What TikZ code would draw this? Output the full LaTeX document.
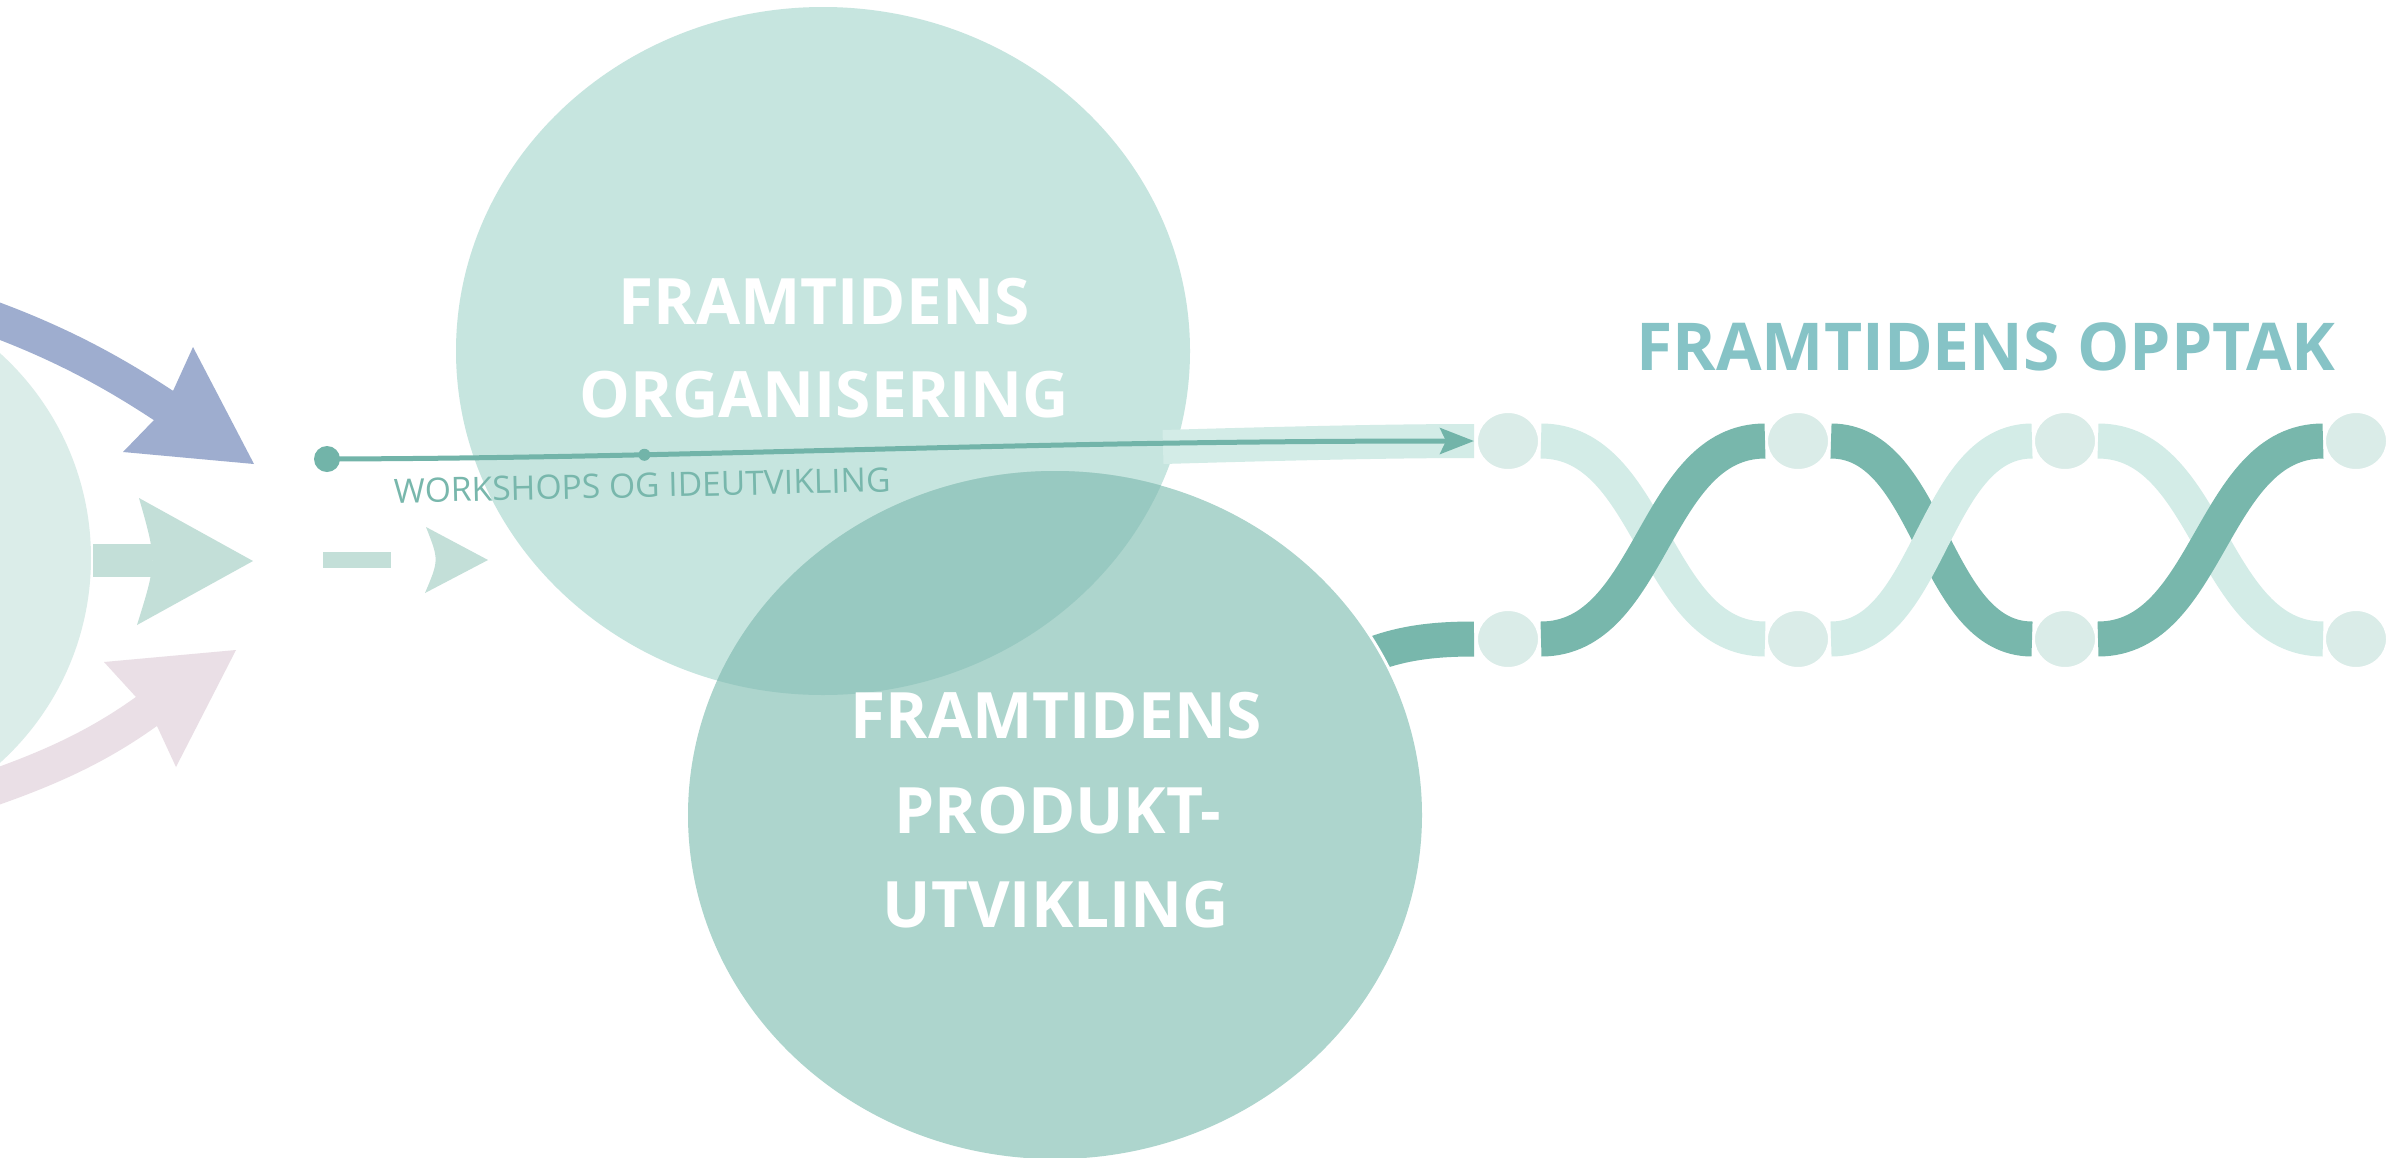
\documentclass[tikz,border=0pt]{standalone}
\usepackage{fontspec}
\setmainfont{Open Sans}
\usetikzlibrary{arrows.meta,shapes.geometric}
\definecolor{orgc}{HTML}{C6E5DF}
\definecolor{prodc}{HTML}{ADD5CD}
\definecolor{lensc}{HTML}{98C9C1}
\definecolor{darkband}{HTML}{78B7AC}
\definecolor{lightband}{HTML}{D3ECE7}
\definecolor{knotc}{HTML}{DAECE8}
\definecolor{linec}{HTML}{72B4A9}
\definecolor{leftc}{HTML}{DBEDE9}
\definecolor{midc}{HTML}{C3DFD8}
\definecolor{bluec}{HTML}{9EADCF}
\definecolor{pinkc}{HTML}{EADFE6}
\definecolor{titlec}{HTML}{86C3C6}
\definecolor{wsc}{HTML}{78B7AC}
\begin{document}
\begin{tikzpicture}[x=1pt,y=-1pt,
  knot/.style={ellipse, minimum width=62pt, minimum height=58pt, inner sep=0pt, fill=knotc, draw=white, line width=2pt},
  lband/.style={draw=lightband, line width=35pt},
  dband/.style={draw=darkband, line width=35pt},
  bigcircle/.style={ellipse, minimum width=734pt, minimum height=688pt, inner sep=0pt},
  bigtext/.style={text=white, font=\bfseries\fontsize{64}{64}\selectfont, anchor=base, inner sep=0pt},
]
\fill[white] (0,0) rectangle (2407,1157);
\clip (0,0) rectangle (2407,1157);

% left circle and arrows
\node[circle, fill=leftc, minimum size=552pt, inner sep=0pt] (left) at (-185,558) {};
\draw[bluec, line width=35pt] (-40,307) .. controls (50,337) and (110,370) .. (166.8,407.7);
\fill[bluec] (193,347) -- (254,464) -- (123,452) -- (154,420) -- (173,391) -- cycle;
\fill[midc] (93,544) rectangle (152,577);
\fill[midc] (139,498) -- (253,561) -- (137,625) .. controls (157,561) .. (139,498) -- cycle;
\fill[midc] (323,552) rectangle (391,568);
\fill[midc] (426,527) -- (488,560) -- (425,593) .. controls (439,560) .. (426,527) -- cycle;
\draw[pinkc, line width=35.8pt] (-40,799) .. controls (50,770) and (100,745) .. (148.9,709.7);
\fill[pinkc] (104,662) -- (236,650) -- (176,767) -- (157,726) -- (136,697) -- cycle;

% knots
\node[knot] (t1) at (1508,441) {};
\node[knot] (t2) at (1798,441) {};
\node[knot] (t3) at (2065,441) {};
\node[knot] (t4) at (2356,441) {};
\node[knot] (b1) at (1508,639) {};
\node[knot] (b2) at (1798,639) {};
\node[knot] (b3) at (2065,639) {};
\node[knot] (b4) at (2356,639) {};

% top circle
\node[bigcircle, fill=orgc] (org) at (823,351) {};

% dark band entering from the bottom circle
\draw[dband] (1290,700) .. controls (1360,652) and (1400,639) .. ([xshift=-2pt]b1.west);
\begin{scope}
  \clip (1300,580) rectangle (1460,720);
  \draw[white, line width=6pt] (1055,815) ellipse [x radius=367pt, y radius=344pt];
\end{scope}

% bottom circle and lens
\node[bigcircle, fill=prodc] (prod) at (1055,815) {};
\begin{scope}
  \clip (823,351) ellipse [x radius=367pt, y radius=344pt];
  \fill[lensc] (1055,815) ellipse [x radius=367pt, y radius=344pt];
\end{scope}

% light band behind the arrow
\coordinate (arrend) at ([xshift=-2pt]t1.west);
\draw[lband, line width=34pt] (1163,447) .. controls (1300,443) and (1400,441) .. (arrend);

% main arrow line
\node[circle, fill=linec, minimum size=26pt, inner sep=0pt] (start) at (327,459) {};
\draw[linec, line width=5pt, -{Stealth[length=34pt, width=26pt, inset=6pt]}] (start.center) .. controls (700,458) and (1000,441) .. (arrend)
  node[pos=0.295, circle, fill=linec, minimum size=12pt, inner sep=0pt] (mark) {};

% helix
\draw[lband] ([xshift=1pt]t1.east) .. controls +(112,0) and +(-112,0) .. ([xshift=-1pt]b2.west);
\draw[dband] ([xshift=1pt]b1.east) .. controls +(112,0) and +(-112,0) .. ([xshift=-1pt]t2.west);
\draw[dband] ([xshift=1pt]t2.east) .. controls +(100,0) and +(-100,0) .. ([xshift=-1pt]b3.west);
\draw[lband] ([xshift=1pt]b2.east) .. controls +(100,0) and +(-100,0) .. ([xshift=-1pt]t3.west);
\draw[lband] ([xshift=1pt]t3.east) .. controls +(112,0) and +(-112,0) .. ([xshift=-1pt]b4.west);
\draw[dband] ([xshift=1pt]b3.east) .. controls +(112,0) and +(-112,0) .. ([xshift=-1pt]t4.west);

% texts
\node[bigtext] (o1) at (824,324) {FRAMTIDENS};
\node[bigtext] (o2) at (824,417) {ORGANISERING};
\node[bigtext] (p1) at (1056,738) {FRAMTIDENS};
\node[bigtext] (p2) at (1058,833) {PRODUKT-};
\node[bigtext] (p3) at (1056,927) {UTVIKLING};
\node[bigtext, text=titlec, font=\bfseries\fontsize{66}{66}\selectfont] (opptak) at (1986,370) {FRAMTIDENS OPPTAK};
\node[text=wsc, font=\fontsize{33.6}{33.6}\selectfont, anchor=base west, rotate=1.3, inner sep=0pt] (ws) at (394,503) {WORKSHOPS OG IDEUTVIKLING};
\end{tikzpicture}
\end{document}
